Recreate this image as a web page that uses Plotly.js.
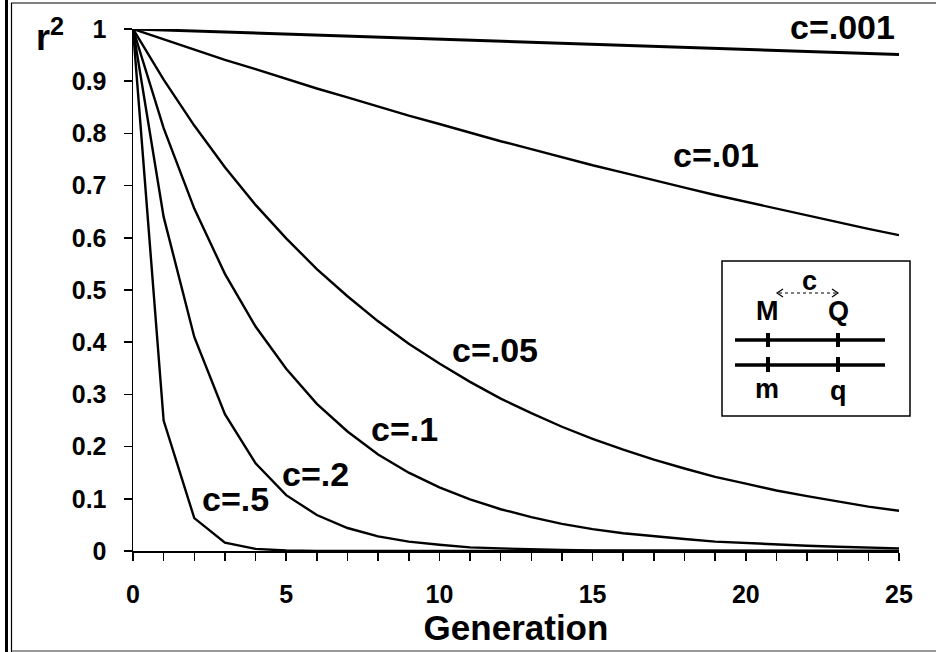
<!DOCTYPE html>
<html>
<head>
<meta charset="utf-8">
<script src="https://cdn.plot.ly/plotly-3.0.1.min.js"></script>
<style>html,body{margin:0;padding:0;background:#fff}#chart{width:936px;height:652px}</style>
</head>
<body>
<div id="chart"></div>
<script>
// Generation (x)
const generations = [0,1,2,3,4,5,6,7,8,9,10,11,12,13,14,15,16,17,18,19,20,21,22,23,24,25];
// r^2 series
const r2_c001 = [1,0.998,0.996,0.994,0.992,0.990,0.988,0.986,0.984,0.982,0.980,0.978,0.976,0.974,0.972,0.970,0.968,0.966,0.965,0.963,0.961,0.959,0.957,0.955,0.953,0.951];
const r2_c01  = [1,0.980,0.961,0.941,0.923,0.904,0.886,0.869,0.851,0.834,0.818,0.801,0.785,0.770,0.754,0.739,0.725,0.710,0.696,0.682,0.669,0.655,0.642,0.630,0.617,0.605];
const r2_c05  = [1,0.903,0.815,0.735,0.663,0.599,0.540,0.488,0.440,0.397,0.359,0.324,0.292,0.264,0.238,0.215,0.194,0.175,0.158,0.142,0.129,0.116,0.105,0.095,0.085,0.077];
const r2_c1   = [1,0.810,0.656,0.531,0.430,0.349,0.282,0.229,0.185,0.150,0.122,0.099,0.080,0.065,0.052,0.042,0.034,0.028,0.023,0.018,0.015,0.012,0.010,0.008,0.006,0.005];
const r2_c2   = [1,0.640,0.410,0.262,0.168,0.107,0.069,0.044,0.028,0.018,0.012,0.007,0.005,0.003,0.002,0.001,0.001,0.001,0,0,0,0,0,0,0,0];
const r2_c5   = [1,0.250,0.063,0.016,0.004,0.001,0,0,0,0,0,0,0,0,0,0,0,0,0,0,0,0,0,0,0,0];
const seriesNames = ["c=.001","c=.01","c=.05","c=.1","c=.2","c=.5"];
const seriesValues = [r2_c001, r2_c01, r2_c05, r2_c1, r2_c2, r2_c5];
// label anchor points (x in generations, y in r^2 units)
const labelX = [23.17, 19.03, 11.81, 8.85, 5.94, 3.36];
const labelY = [1.004, 0.759, 0.385, 0.234, 0.148, 0.100];

const FONT = '"Liberation Sans", Arial, sans-serif';
const traces = seriesValues.map((v,i)=>({
  x: generations, y: v, type:'scatter', mode:'lines', name: seriesNames[i],
  line:{color:'#000', width: i===0 ? 3 : 2.4}, showlegend:false, hoverinfo:'skip'
}));

const L=133, R=899, T=29, B=551;
const px = x => (x-L)/(R-L);
const py = y => (B-y)/(B-T);

// y axis range [0,1] coincides with paper [0,1], so y uses paper ref (never hidden)
const annotations = seriesNames.map((n,i)=>({
  x: labelX[i], y: labelY[i], xref:'x', yref:'paper', text:'<b>'+n+'</b>', showarrow:false,
  font:{family:FONT, size:34, color:'#000'}, xanchor:'center', yanchor:'middle'
}));
annotations.push({x:px(34), y:py(60), xref:'paper', yref:'paper', text:'<b>r<sup>2</sup></b>', showarrow:false, xanchor:'left', yanchor:'bottom', font:{family:FONT,size:36,color:'#000'}});
// inset labels
const insetFont = {family:FONT, size:27, color:'#000'};
[['c',809,281],['M',767,311],['Q',838,311],['m',767,389],['q',838,391]].forEach(a=>{
  annotations.push({x:px(a[1]), y:py(a[2]), xref:'paper', yref:'paper', text:'<b>'+a[0]+'</b>', showarrow:false, xanchor:'center', yanchor:'middle', font:insetFont});
});

const pp = (x,y) => px(x)+','+py(y);
const shapes = [
  // inset box
  {type:'rect', xref:'paper', yref:'paper', x0:px(722), x1:px(910), y0:py(261), y1:py(416), line:{color:'#000', width:1.5}},
  // chromosome lines
  {type:'line', xref:'paper', yref:'paper', x0:px(735), x1:px(885), y0:py(340), y1:py(340), line:{color:'#000', width:3.5}},
  {type:'line', xref:'paper', yref:'paper', x0:px(735), x1:px(885), y0:py(365), y1:py(365), line:{color:'#000', width:3.5}},
  {type:'line', xref:'paper', yref:'paper', x0:px(768), x1:px(768), y0:py(333), y1:py(347), line:{color:'#000', width:4}},
  {type:'line', xref:'paper', yref:'paper', x0:px(838), x1:px(838), y0:py(333), y1:py(347), line:{color:'#000', width:4}},
  {type:'line', xref:'paper', yref:'paper', x0:px(768), x1:px(768), y0:py(357), y1:py(372), line:{color:'#000', width:4}},
  {type:'line', xref:'paper', yref:'paper', x0:px(838), x1:px(838), y0:py(357), y1:py(372), line:{color:'#000', width:4}},
  // dotted link with arrowheads
  {type:'line', xref:'paper', yref:'paper', x0:px(779), x1:px(836), y0:py(293), y1:py(293), line:{color:'#000', width:1.2, dash:'dot'}},
  {type:'path', xref:'paper', yref:'paper', path:'M'+pp(783,289)+'L'+pp(777,293)+'L'+pp(783,297), line:{color:'#000', width:1.2}},
  {type:'path', xref:'paper', yref:'paper', path:'M'+pp(832,289)+'L'+pp(838,293)+'L'+pp(832,297), line:{color:'#000', width:1.2}},
  // outer frame
  {type:'line', xref:'paper', yref:'paper', x0:px(6.5), x1:px(6.5), y0:py(0), y1:py(652), line:{color:'#000', width:3}},
  {type:'line', xref:'paper', yref:'paper', x0:px(11.5), x1:px(11.5), y0:py(3), y1:py(652), line:{color:'#000', width:1.2}},
  {type:'line', xref:'paper', yref:'paper', x0:px(11), x1:px(936), y0:py(3), y1:py(3), line:{color:'#000', width:1.2}},
  {type:'line', xref:'paper', yref:'paper', x0:px(12), x1:px(936), y0:py(651), y1:py(651), line:{color:'#777', width:1.5}}
];

const layout = {
  width:936, height:652, margin:{l:L, r:936-R, t:T, b:652-B}, paper_bgcolor:'#fff', plot_bgcolor:'#fff',
  font:{family:FONT, color:'#000'},
  xaxis:{range:[0,25], dtick:5, tick0:0, ticks:'outside', ticklen:8, tickwidth:1.5, tickcolor:'#000',
    minor:{dtick:1, ticks:'outside', ticklen:8, tickwidth:1.5, tickcolor:'#000'},
    showline:true, linecolor:'#000', linewidth:1.5, showgrid:false, zeroline:false,
    tickfont:{family:FONT, size:25, color:'#000', weight:'bold'}, ticklabelstandoff:12,
    title:{text:'<b>Generation</b>', font:{family:FONT, size:35, color:'#000'}, standoff:0}, automargin:false},
  yaxis:{range:[0,1], dtick:0.1, tick0:0, ticks:'outside', ticklen:8, tickwidth:1.5, tickcolor:'#000',
    showline:true, linecolor:'#000', linewidth:1.5, showgrid:false, zeroline:false,
    tickfont:{family:FONT, size:25, color:'#000', weight:'bold'}, ticklabelstandoff:12, automargin:false},
  annotations: annotations, shapes: shapes, showlegend:false
};
Plotly.newPlot('chart', traces, layout, {staticPlot:true, displayModeBar:false});
</script>
</body>
</html>
